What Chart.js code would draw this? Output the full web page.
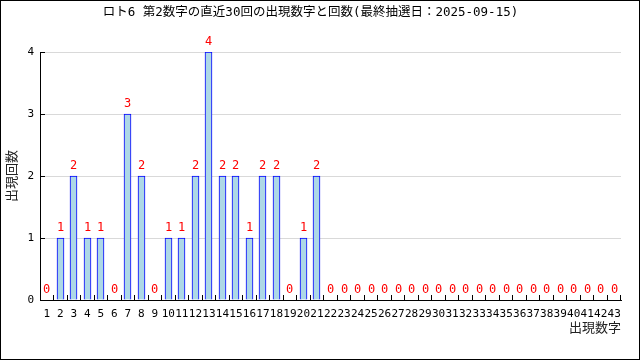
<!DOCTYPE html>
<html>
<head>
<meta charset="utf-8">
<script src="https://cdn.jsdelivr.net/npm/chart.js@4"></script>
<style>
  body { margin: 0; background: #fff; }
</style>
</head>
<body>
<canvas id="chart" width="640" height="360"></canvas>
<script>
const titleText = 'ロト6 第2数字の直近30回の出現数字と回数(最終抽選日：2025-09-15)';
const numbers = ['1', '2', '3', '4', '5', '6', '7', '8', '9', '10',
    '11', '12', '13', '14', '15', '16', '17', '18', '19', '20',
    '21', '22', '23', '24', '25', '26', '27', '28', '29', '30',
    '31', '32', '33', '34', '35', '36', '37', '38', '39', '40',
    '41', '42', '43'];
const counts = [0, 1, 2, 1, 1, 0, 3, 2, 0, 1,
    1, 2, 4, 2, 2, 1, 2, 2, 0, 1,
    2, 0, 0, 0, 0, 0, 0, 0, 0, 0,
    0, 0, 0, 0, 0, 0, 0, 0, 0, 0,
    0, 0, 0];
const yTicks = [0, 1, 2, 3, 4];

const monoFont = "'DejaVu Sans Mono', 'Noto Sans CJK JP', monospace";
Chart.defaults.font.family = monoFont;
Chart.defaults.color = '#000';

// snap bars to whole pixels so the 1px outline stays crisp
const crispBars = {
    id: 'crispBars',
    beforeDatasetsDraw(chart) {
        chart.getDatasetMeta(0).data.forEach(bar => {
            bar.x = Math.floor(bar.x) + 0.5;
            bar.y = Math.round(bar.y);
        });
    }
};

// red count above every bar (zeros too)
const valueLabels = {
    id: 'valueLabels',
    afterDatasetsDraw(chart) {
        const ctx = chart.ctx;
        const meta = chart.getDatasetMeta(0);
        ctx.save();
        ctx.fillStyle = '#ff0000';
        ctx.font = '12px ' + monoFont;
        ctx.textAlign = 'center';
        ctx.textBaseline = 'bottom';
        meta.data.forEach((bar, i) => {
            ctx.fillText(String(counts[i]), bar.x, bar.y - 4);
        });
        ctx.restore();
    }
};

// thin black frame round the picture
const frame = {
    id: 'frame',
    afterDraw(chart) {
        const ctx = chart.ctx;
        ctx.save();
        ctx.strokeStyle = '#000';
        ctx.lineWidth = 1;
        ctx.strokeRect(0.5, 0.5, chart.width - 1, chart.height - 1);
        ctx.restore();
    }
};

new Chart(document.getElementById('chart'), {
    type: 'bar',
    plugins: [crispBars, valueLabels, frame],
    data: {
        labels: numbers,
        datasets: [{
            data: counts,
            backgroundColor: '#add8e6',
            borderColor: '#0000ff',
            borderWidth: 1,
            barThickness: 7
        }]
    },
    options: {
        responsive: false,
        animation: false,
        layout: {
            padding: { left: 0, right: 19, top: 0, bottom: 25 }
        },
        plugins: {
            legend: { display: false },
            tooltip: { enabled: false },
            title: {
                display: true,
                text: titleText,
                color: '#000',
                font: { size: 12.5, weight: 'normal', family: monoFont },
                padding: { top: 5, bottom: 32 }
            }
        },
        scales: {
            x: {
                offset: true,
                grid: {
                    offset: true,
                    drawOnChartArea: false,
                    color: '#000',
                    tickLength: -5
                },
                border: { color: '#000', width: 1 },
                ticks: {
                    autoSkip: false,
                    maxRotation: 0,
                    padding: 13,
                    font: { size: 11 }
                },
                title: {
                    display: true,
                    text: '出現数字',
                    align: 'end',
                    color: '#222',
                    font: { size: 13, family: "'Noto Sans CJK JP', sans-serif" },
                    padding: 0
                },
                afterFit(scale) { scale.height = 35; }
            },
            y: {
                min: 0,
                max: 4,
                afterBuildTicks(scale) {
                    scale.ticks = yTicks.map(v => ({ value: v }));
                },
                grid: {
                    color: ctx => ctx.tick && ctx.tick.value === 0 ? 'rgba(0,0,0,0)' : '#d9d9d9',
                    tickColor: '#000',
                    tickLength: -5
                },
                border: { color: '#000', width: 1 },
                ticks: {
                    padding: 11,
                    font: { size: 11 }
                },
                title: {
                    display: true,
                    text: '出現回数',
                    color: '#222',
                    font: { size: 13, family: "'Noto Sans CJK JP', sans-serif" },
                    padding: { top: 3, bottom: 0 }
                },
                afterFit(scale) { scale.width = 40; }
            }
        }
    }
});
</script>
</body>
</html>
